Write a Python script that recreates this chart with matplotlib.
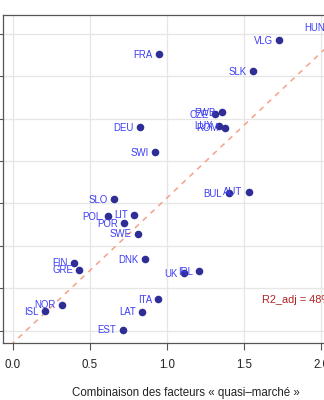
import matplotlib.pyplot as plt
import numpy as np

plt.rcParams['font.family'] = ['Liberation Sans', 'DejaVu Sans']

# scores per pays / région
codes = ['HUN', 'VLG', 'FRA', 'SLK', 'FWB', 'CZE', 'DEU', 'LUX', 'ROM', 'SWI',
         'BUL', 'AUT', 'SLO', 'POL', 'LIT', 'POR', 'SWE', 'DNK', 'FIN', 'GRE',
         'UK', 'IRL', 'NOR', 'ISL', 'ITA', 'LAT', 'EST']
quasi_marche = [2.065, 1.729, 0.950, 1.558, 1.357, 1.310, 0.825, 1.340, 1.379, 0.924,
                1.401, 1.531, 0.658, 0.615, 0.788, 0.723, 0.814, 0.859, 0.398, 0.431,
                1.108, 1.210, 0.320, 0.208, 0.944, 0.840, 0.712]
score_y = [2.082, 1.929, 1.760, 1.560, 1.076, 1.053, 0.903, 0.918, 0.894, 0.608,
           0.121, 0.140, 0.053, -0.147, -0.132, -0.230, -0.356, -0.654, -0.698, -0.780,
           -0.823, -0.799, -1.193, -1.271, -1.130, -1.276, -1.488]

# droite de référence y = a + b x
a_line, b_line = -1.645, 1.712
r2_text = 'R2_adj = 48%'

fig = plt.figure(figsize=(3.24, 4.0), dpi=100)
ax = fig.add_axes([2.7 / 324, 57.3 / 400, 366.0 / 324, 328.0 / 400])

ax.set_xlim(-0.067, 2.31)
ax.set_ylim(-1.642, 2.227)
ax.set_xticks([0.0, 0.5, 1.0, 1.5, 2.0])
ax.set_xticklabels(['0.0', '0.5', '1.0', '1.5', '2.0'])
ax.set_yticks(np.arange(-1.5, 2.01, 0.5))
ax.grid(True, color='#e6e6e6', linewidth=0.9)
ax.set_axisbelow(True)

for s in ax.spines.values():
    s.set_color('#555555')
    s.set_linewidth(0.9)
ax.tick_params(axis='x', direction='out', length=5, width=0.8, color='#555555',
               labelsize=8.3, pad=6.5, labelcolor='#222222')
ax.tick_params(axis='y', direction='out', length=5, width=0.8, color='#555555',
               labelleft=False)

xs = np.linspace(-0.067, 2.31, 50)
ax.plot(xs, a_line + b_line * xs, color='#f5a088', linewidth=1.1,
        linestyle=(0, (3.5, 3.5)), zorder=2)

ax.scatter(quasi_marche, score_y, s=30, color='#2e2e96', zorder=3, linewidths=0)
for c, x, y in zip(codes, quasi_marche, score_y):
    ax.annotate(c, (x, y), xytext=(-4.6, 0.3), textcoords='offset points',
                ha='right', va='center_baseline', fontsize=6.9, color='#3d3df5',
                zorder=4)

ax.text(1.617, -1.126, r2_text, color='#b22222', fontsize=7.9,
        ha='left', va='center_baseline')

ax.set_xlabel('Combinaison des facteurs « quasi–marché »', fontsize=8.3,
              color='#222222', va='center')
ax.xaxis.set_label_coords(0.5, -0.152)

fig.savefig('out.png', dpi=100)
